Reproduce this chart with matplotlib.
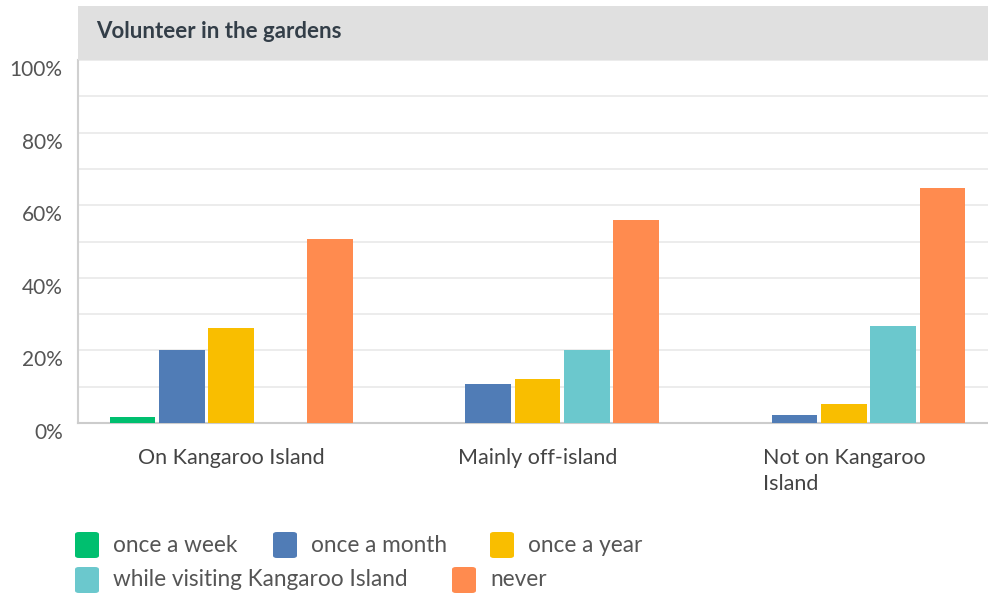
import numpy as np
import matplotlib
matplotlib.use('Agg')
import matplotlib.pyplot as plt
from matplotlib.patches import Rectangle, FancyBboxPatch

plt.rcParams['font.family'] = ['Lato', 'DejaVu Sans']

# data (percent)
groups = ['On Kangaroo Island', 'Mainly off-island', 'Not on Kangaroo\nIsland']
series = ['once a week', 'once a month', 'once a year',
          'while visiting Kangaroo Island', 'never']
once_week = [1.6, 0, 0]
once_month = [20.1, 10.7, 2.1]
once_year = [26.2, 12.2, 5.1]
visiting = [0, 20.2, 26.8]
never = [50.7, 55.9, 64.7]
colors = ['#00bf6f', '#507cb6', '#f9be00', '#6bc8cd', '#ff8b4f']
values = [once_week, once_month, once_year, visiting, never]

W, H = 988, 599
fig = plt.figure(figsize=(W / 100, H / 100), dpi=100)
fig.patch.set_facecolor('white')

# axes box in pixels (right edge runs a little past the image)
x0, x1, y_top, y_bot = 78, 997, 60, 423
ax = fig.add_axes([x0 / W, (H - y_bot) / H, (x1 - x0) / W, (y_bot - y_top) / H])

x = np.arange(len(groups))
slot = 0.161
bw = 0.149
for i, (vals, col) in enumerate(zip(values, colors)):
    ax.bar(x + (i - 2) * slot, vals, width=bw, color=col, zorder=3, linewidth=0)

ax.set_xlim(-0.5, len(groups) - 0.5)
ax.set_ylim(0, 100)
ax.set_yticks(np.arange(0, 101, 20))
ax.set_yticks(np.arange(10, 100, 20), minor=True)
ax.set_yticklabels([f'{v}%' for v in range(0, 101, 20)])
ax.grid(axis='y', which='both', color='#ebebeb', linewidth=1.3, zorder=0)
ax.tick_params(axis='y', which='both', length=0, pad=11, labelsize=15, labelcolor='#555555')
for lbl in ax.get_yticklabels():
    lbl.set_va('top')

ax.set_xticks(x)
ax.set_xticklabels(groups, multialignment='left', linespacing=1.35)
ax.tick_params(axis='x', length=0, pad=18, labelsize=15.5, labelcolor='#444444')

for s in ['top', 'right']:
    ax.spines[s].set_visible(False)
ax.spines['left'].set_color('#d0d0d0')
ax.spines['left'].set_linewidth(1.5)
ax.spines['bottom'].set_color('#cccccc')
ax.spines['bottom'].set_linewidth(1.5)

# grey title bar
fig.add_artist(Rectangle((x0 / W, (H - 60) / H), (W - x0) / W, 54 / H,
                         transform=fig.transFigure, facecolor='#e0e0e0', edgecolor='none'))
fig.text(96 / W, (H - 31) / H, 'Volunteer in the gardens', fontsize=16, fontweight='bold',
         color='#333e48', va='center', ha='left')

# legend, laid out in two rows like the original
rows = [[(0, 75), (1, 273), (2, 490)], [(3, 75), (4, 452)]]
row_y = [545, 580]
for row, yc in zip(rows, row_y):
    for idx, xs in row:
        fig.add_artist(FancyBboxPatch(((xs) / W, (H - yc - 13) / H), 24 / W, 26 / H,
                                      boxstyle='round,pad=0,rounding_size=0.004',
                                      transform=fig.transFigure, facecolor=colors[idx],
                                      edgecolor='none'))
        fig.text((xs + 38) / W, (H - yc) / H, series[idx], fontsize=16.3, color='#555555',
                 va='center', ha='left')

fig.savefig('out.png', dpi=100)
